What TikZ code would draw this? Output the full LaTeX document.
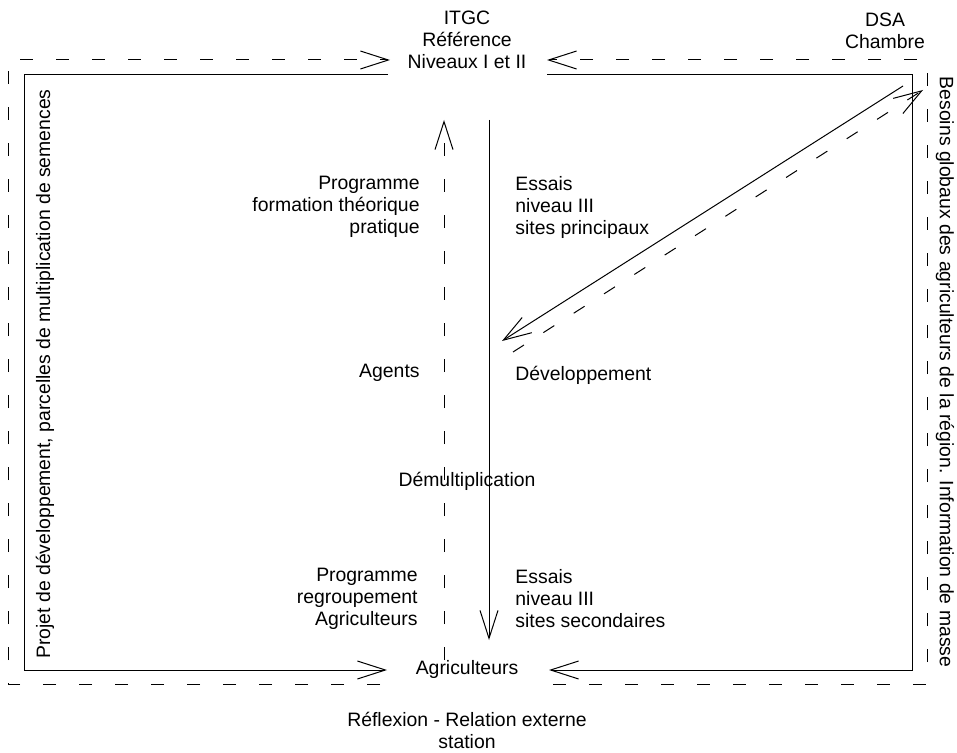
\documentclass[tikz,border=0pt]{standalone}
\usepackage{fontspec}
\setmainfont{Liberation Sans}
\usetikzlibrary{arrows.meta, positioning}
\tikzset{
    txt/.style={font=\fontsize{9.7}{11}\selectfont, align=center, inner sep=0pt},
    txtright/.style={txt, align=right, anchor=east},
    txtleft/.style={txt, align=left, anchor=west},
    flow/.style={line width=0.5pt, draw=black},
    dashflow/.style={flow, dash pattern=on 6.5pt off 11.5pt},
    arrow/.style={flow, -{Straight Barb[length=14pt, width=9pt]}},
    dashedarrow/.style={dashflow, -{Straight Barb[length=14pt, width=9pt]}},
}

\begin{document}
\begin{tikzpicture}[x=0.5pt, y=-0.5pt]
    \useasboundingbox (0,0) rectangle (957,753);

    % nodes
    \node[txt] (itgc) at (467,40) {ITGC\\Référence\\Niveaux I et II};
    \node[txt] (dsa) at (885,31) {DSA\\Chambre};
    \node[txtright] (prog1) at (420,207) {Programme\\formation théorique\\pratique};
    \node[txtleft] (essais1) at (515,207) {Essais\\niveau III\\sites principaux};
    \node[txtright] (agents) at (420,373) {Agents};
    \node[txtleft] (dev) at (515,375) {Développement};
    \node[txt] (demul) at (467,481) {Démultiplication};
    \node[txtright] (prog2) at (418,599) {Programme\\regroupement\\Agriculteurs};
    \node[txtleft] (essais2) at (515,599) {Essais\\niveau III\\sites secondaires};
    \node[txt] (agri) at (467,669) {Agriculteurs};
    \node[txt] (reflex) at (467,730) {Réflexion - Relation externe\\station};
    \node[txt, rotate=90] (projet) at (45,374) {Projet de développement, parcelles de multiplication de semences};
    \node[txt, rotate=-90] (besoins) at (945,372) {Besoins globaux des agriculteurs de la région. Information de masse};

    % corners and free ends
    \coordinate (inTL) at (388,75);
    \coordinate (cTL) at (24,75);
    \coordinate (cBL) at (24,670);
    \coordinate (outBL) at (387,670);
    \coordinate (inTR) at (547,75);
    \coordinate (cTR) at (912,75);
    \coordinate (cBR) at (912,670);
    \coordinate (outBR) at (549,670);
    \coordinate (dBLa) at (380,684);
    \coordinate (dBL) at (8,684);
    \coordinate (dTL) at (8,60);
    \coordinate (dTLb) at (390,60);
    \coordinate (dBRa) at (553,684);
    \coordinate (dBR) at (927,684);
    \coordinate (dTR) at (927,60);
    \coordinate (dTRb) at (547,60);
    \coordinate (topS) at (489,120);
    \coordinate (botS) at (489,640);
    \coordinate (botD) at (444,660);
    \coordinate (topD) at (444,120);
    \coordinate (diagA) at (903,86);
    \coordinate (diagB) at (502,341);
    \coordinate (diagC) at (513,352);
    \coordinate (diagD) at (923,90);

    % solid frame
    \draw[arrow] (inTL) -- (cTL) -- (cBL) -- (outBL);
    \draw[arrow] (inTR) -- (cTR) -- (cBR) -- (outBR);

    % dashed frame
    \draw[dashedarrow] (dBLa) -- (dBL) -- (dTL) -- (dTLb);
    \draw[dashedarrow] (dBRa) -- (dBR) -- (dTR) -- (dTRb);

    % middle
    \draw[arrow] (topS) -- (botS);
    \draw[dashedarrow] (botD) -- (topD);
    \draw[arrow] (diagA) -- (diagB);
    \draw[dashedarrow] (diagC) -- (diagD);
\end{tikzpicture}
\end{document}
